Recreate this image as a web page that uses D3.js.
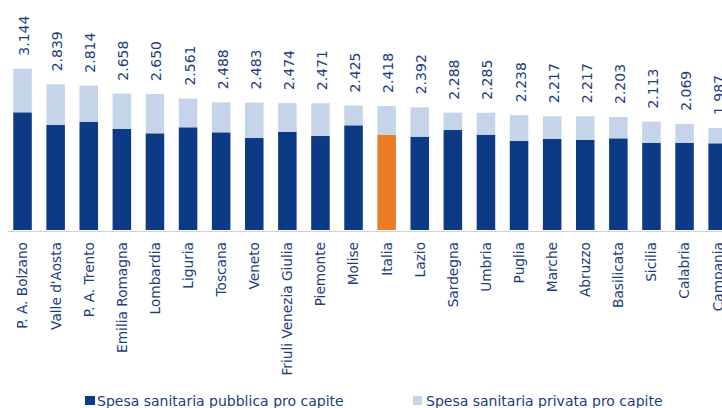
<!DOCTYPE html>
<html>
<head>
<meta charset="utf-8">
<script src="https://cdn.jsdelivr.net/npm/d3@7"></script>
<style>
  html, body { margin: 0; padding: 0; background: #fff; overflow: hidden; }
  svg { display: block; font-family: "DejaVu Sans", Verdana, sans-serif; }
</style>
</head>
<body>
<svg id="chart" width="722" height="408"></svg>
<script>
// Regioni, ordinate per spesa sanitaria totale pro capite (euro)
const regioni = ["P. A. Bolzano", "Valle d'Aosta", "P. A. Trento", "Emilia Romagna", "Lombardia",
  "Liguria", "Toscana", "Veneto", "Friuli Venezia Giulia", "Piemonte", "Molise", "Italia",
  "Lazio", "Sardegna", "Umbria", "Puglia", "Marche", "Abruzzo", "Basilicata", "Sicilia",
  "Calabria", "Campania"];

// Spesa totale pro capite (etichette in cima alle barre)
const totale = [3144, 2839, 2814, 2658, 2650, 2561, 2488, 2483, 2474, 2471, 2425, 2418,
  2392, 2288, 2285, 2238, 2217, 2217, 2203, 2113, 2069, 1987];

// Quota pubblica pro capite
const pubblica = [2294, 2047, 2111, 1969, 1885, 2002, 1904, 1793, 1916, 1832, 2041, 1852,
  1819, 1949, 1858, 1735, 1774, 1760, 1787, 1696, 1696, 1690];

// Quota privata = totale - pubblica
const privata = totale.map((t, i) => t - pubblica[i]);

const serie = ["Spesa sanitaria pubblica pro capite", "Spesa sanitaria privata pro capite"];

const colPubblica = "#0c3a84";
const colPrivata = "#c6d4ea";
const colItalia = "#ec7b25";
const colTesto = "#1e3c7e";

const svg = d3.select("#chart");

const x = d3.scaleBand()
  .domain(regioni)
  .range([6, 6 + regioni.length * 33.1])
  .paddingInner(0.44)
  .paddingOuter(0.22);

const y = d3.scaleLinear()
  .domain([0, 3500])
  .range([230, 230 - 0.0513 * 3500]);

const data = regioni.map((r, i) => ({
  regione: r, pubblica: pubblica[i], privata: privata[i], totale: totale[i]
}));

const stack = d3.stack().keys(["pubblica", "privata"])(data);

// Barre impilate
svg.append("g").selectAll("g")
  .data(stack)
  .join("g")
  .selectAll("rect")
  .data(s => s.map(d => ({ key: s.key, d })))
  .join("rect")
  .attr("x", v => x(v.d.data.regione))
  .attr("width", x.bandwidth())
  .attr("y", v => y(v.d[1]))
  .attr("height", v => y(v.d[0]) - y(v.d[1]))
  .attr("fill", v => v.key === "privata" ? colPrivata
    : (v.d.data.regione === "Italia" ? colItalia : colPubblica));

// Linea di base
svg.append("line")
  .attr("x1", 8).attr("x2", 722)
  .attr("y1", y(0) + 1.5).attr("y2", y(0) + 1.5)
  .attr("stroke", "#d2d2d2").attr("stroke-width", 1.2);

// Etichette dei valori totali
const fmt = v => d3.format(",")(v).replace(",", ".");
svg.append("g").selectAll("text")
  .data(data)
  .join("text")
  .attr("transform", d => `translate(${x(d.regione) + x.bandwidth() / 2 + 1.5},${y(d.totale) - 13}) rotate(-90)`)
  .attr("dy", "0.36em")
  .attr("text-anchor", "start")
  .attr("font-size", 14)
  .attr("fill", colTesto)
  .text(d => fmt(d.totale));

// Asse delle categorie con etichette verticali
const xAxis = svg.append("g")
  .attr("transform", `translate(0,${y(0)})`)
  .call(d3.axisBottom(x).tickSize(0).tickPadding(0));
xAxis.select(".domain").remove();
xAxis.selectAll("text")
  .attr("transform", "translate(0,12) rotate(-90)")
  .attr("x", 0).attr("y", 0)
  .attr("dy", "0.36em")
  .attr("text-anchor", "end")
  .attr("font-size", 13.7)
  .attr("font-family", "DejaVu Sans, Verdana, sans-serif")
  .attr("fill", colTesto);

// Legenda
const legenda = [
  { nome: serie[0], col: colPubblica, x: 85, w: 10, tx: 12 },
  { nome: serie[1], col: colPrivata, x: 413, w: 9, tx: 13 }
];
const lg = svg.append("g").selectAll("g")
  .data(legenda)
  .join("g")
  .attr("transform", d => `translate(${d.x},396)`);
lg.append("rect")
  .attr("width", d => d.w).attr("height", 9)
  .attr("fill", d => d.col);
lg.append("text")
  .attr("x", d => d.tx).attr("y", 9.6)
  .attr("font-size", 14)
  .attr("fill", colTesto)
  .text(d => d.nome);
</script>
</body>
</html>
